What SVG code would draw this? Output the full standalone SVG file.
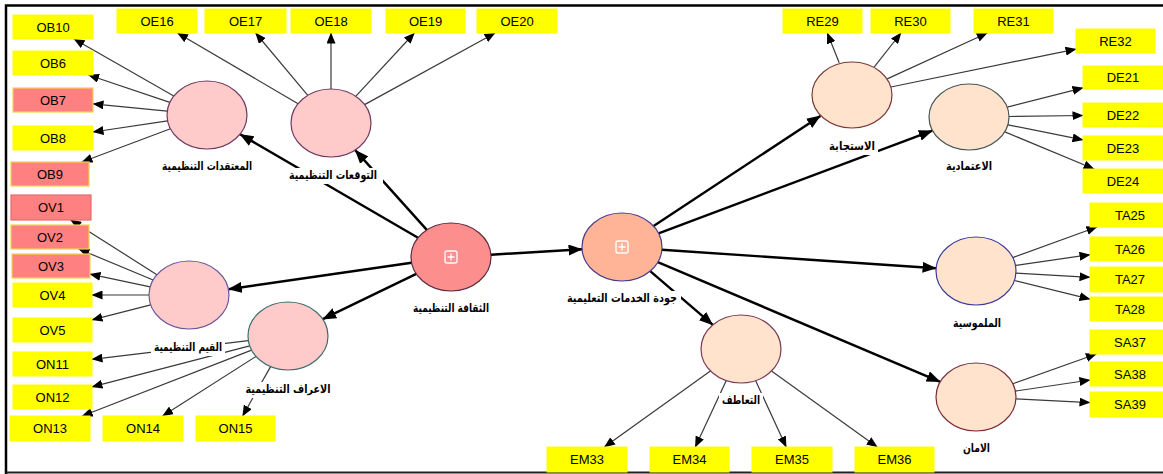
<svg xmlns="http://www.w3.org/2000/svg" width="1163" height="474" viewBox="0 0 1163 474">
<style>
.bg{fill:#fff}
.frame{fill:none;stroke:#000;stroke-width:2.5}
.thin{fill:none;stroke:#3a3a3a;stroke-width:1.2;marker-end:url(#ah)}
.thick{fill:none;stroke:#000;stroke-width:2.4;marker-end:url(#ahb)}
.y{fill:#ffff00;stroke:#ffff00;stroke-width:1}
.p{fill:#ff8080;stroke:#f2d24a;stroke-width:1.2}
.p2{fill:#ff8080;stroke:#e86a6a;stroke-width:1.2}
.it{font-family:"Liberation Sans",Arial,sans-serif;font-size:13px;fill:#000;text-anchor:middle}
.lt{font-family:"DejaVu Sans",sans-serif;font-size:11.5px;font-weight:bold;fill:#000;text-anchor:middle}
.lb{fill:#fff}
.e1{fill:#ffcaca;stroke:#6e3a62;stroke-width:1.2}
.e0{fill:#fc8e8e;stroke:#5a2a40;stroke-width:1.2}
.eq{fill:#ffb497;stroke:#4a3a8a;stroke-width:1.2}
.er{fill:#ffe3cc;stroke-width:1.2}
.ic{fill:none;stroke:#fff;stroke-width:1.3}
</style>
<defs>
<marker id="ah" markerUnits="userSpaceOnUse" viewBox="0 0 11 9" markerWidth="11" markerHeight="9" refX="10.5" refY="4.5" orient="auto"><path d="M0,0 L11,4.5 L0,9 z" fill="#000"/></marker>
<marker id="ahb" markerUnits="userSpaceOnUse" viewBox="0 0 14 11" markerWidth="14" markerHeight="11" refX="13.5" refY="5.5" orient="auto"><path d="M0,0 L14,5.5 L0,11 z" fill="#000"/></marker>
</defs>
<rect class="bg" x="0" y="0" width="1163" height="474"/>
<path class="frame" d="M6,474 V5.5 H1163"/>
<path d="M6,472.5 H1163" fill="none" stroke="#222" stroke-width="2"/>

<g id="connectors">
<path class="thin" d="M173.8,96 L74,39"/>
<path class="thin" d="M169.8,102.4 L88.5,75"/>
<path class="thin" d="M167.3,111.1 L93,103.9"/>
<path class="thin" d="M167.6,120.9 L93,132"/>
<path class="thin" d="M170.4,128.7 L81.9,162"/>
<path class="thin" d="M298.1,103.7 L177.5,33"/>
<path class="thin" d="M307.8,95.3 L255.6,33"/>
<path class="thin" d="M331,89 L331,33"/>
<path class="thin" d="M355.7,96.3 L414.4,33"/>
<path class="thin" d="M364.6,104.6 L495.1,33"/>
<path class="thin" d="M156.9,274.7 L70.7,220"/>
<path class="thin" d="M153.1,280 L78.8,249"/>
<path class="thin" d="M150.2,286.8 L90,274.2"/>
<path class="thin" d="M149,295 L92,295"/>
<path class="thin" d="M150.7,304.8 L92,319.9"/>
<path class="thin" d="M248.4,340.7 L92,359.3"/>
<path class="thin" d="M249.7,345.9 L92,386.8"/>
<path class="thin" d="M251.6,350.1 L82.2,416"/>
<path class="thin" d="M256,356.4 L162.6,416"/>
<path class="thin" d="M270.6,366.6 L242.6,416"/>
<path class="thick" d="M418,237.8 L240,134.2"/>
<path class="thick" d="M426.8,229.9 L355.2,150.1"/>
<path class="thick" d="M411.6,262.7 L228.4,289.3"/>
<path class="thick" d="M416.3,273.8 L322.7,319.2"/>
<path class="thick" d="M490.9,254.7 L582.1,249.3"/>
<path class="thick" d="M653.6,226.1 L820.4,115.9"/>
<path class="thick" d="M658.6,233.3 L932.4,130.7"/>
<path class="thick" d="M661.9,249.7 L936.1,268.3"/>
<path class="thick" d="M657.8,262.2 L940.2,381.8"/>
<path class="thick" d="M650.2,271.1 L712.8,324.9"/>
<path class="thin" d="M710.4,370.9 L604.4,447"/>
<path class="thin" d="M726.3,380.6 L695.3,447"/>
<path class="thin" d="M755.6,380.6 L786.2,447"/>
<path class="thin" d="M771.5,371 L877.2,447"/>
<path class="thin" d="M839.2,62.8 L827.3,33"/>
<path class="thin" d="M874.3,66.8 L901,33"/>
<path class="thin" d="M887.2,78.9 L987.3,33"/>
<path class="thin" d="M890.9,87 L1076,49.1"/>
<path class="thin" d="M1007.3,107.2 L1083,87.8"/>
<path class="thin" d="M1009,116.5 L1083,115.5"/>
<path class="thin" d="M1007.9,124.8 L1083,139.9"/>
<path class="thin" d="M1004.9,131.9 L1094.1,169"/>
<path class="thin" d="M1012.8,257.6 L1097,227"/>
<path class="thin" d="M1015.4,265.4 L1090,254.7"/>
<path class="thin" d="M1015.9,273.2 L1090,277.3"/>
<path class="thin" d="M1014.4,280.5 L1090,299.1"/>
<path class="thin" d="M1012.9,383.8 L1096.4,354"/>
<path class="thin" d="M1015.4,391.1 L1090,380"/>
<path class="thin" d="M1015.9,398.9 L1090,402.6"/>
</g>

<g id="OB10"><rect class="y" x="13" y="15" width="80" height="24"/><text class="it" x="53" y="31.5">OB10</text></g>
<g id="OB6"><rect class="y" x="13" y="51" width="80" height="24"/><text class="it" x="53" y="67.5">OB6</text></g>
<g id="OB7"><rect class="p" x="13" y="88" width="80" height="24"/><text class="it" x="53" y="104.5">OB7</text></g>
<g id="OB8"><rect class="y" x="13" y="126" width="80" height="24"/><text class="it" x="53" y="142.5">OB8</text></g>
<g id="OB9"><rect class="p" x="11" y="162" width="78" height="24"/><text class="it" x="50" y="178.5">OB9</text></g>
<g id="OV1"><rect class="p2" x="11" y="195" width="80" height="25"/><text class="it" x="51" y="212">OV1</text></g>
<g id="OV2"><rect class="p" x="11" y="225" width="78" height="24"/><text class="it" x="50" y="241.5">OV2</text></g>
<g id="OV3"><rect class="p" x="12" y="254" width="78" height="24"/><text class="it" x="51" y="270.5">OV3</text></g>
<g id="OV4"><rect class="y" x="13" y="283" width="79" height="24"/><text class="it" x="52.5" y="299.5">OV4</text></g>
<g id="OV5"><rect class="y" x="13" y="318" width="79" height="24"/><text class="it" x="52.5" y="334.5">OV5</text></g>
<g id="ON11"><rect class="y" x="13" y="352" width="79" height="24"/><text class="it" x="52.5" y="368.5">ON11</text></g>
<g id="ON12"><rect class="y" x="13" y="385" width="79" height="24"/><text class="it" x="52.5" y="401.5">ON12</text></g>
<g id="ON13"><rect class="y" x="10" y="416" width="80" height="25"/><text class="it" x="50" y="433">ON13</text></g>
<g id="ON14"><rect class="y" x="103" y="416" width="80" height="25"/><text class="it" x="143" y="433">ON14</text></g>
<g id="ON15"><rect class="y" x="196" y="416" width="79" height="25"/><text class="it" x="235.5" y="433">ON15</text></g>
<g id="OE16"><rect class="y" x="117" y="9" width="80" height="24"/><text class="it" x="157" y="25.5">OE16</text></g>
<g id="OE17"><rect class="y" x="205" y="9" width="81" height="24"/><text class="it" x="245.5" y="25.5">OE17</text></g>
<g id="OE18"><rect class="y" x="291" y="9" width="80" height="24"/><text class="it" x="331" y="25.5">OE18</text></g>
<g id="OE19"><rect class="y" x="386" y="9" width="79" height="24"/><text class="it" x="425.5" y="25.5">OE19</text></g>
<g id="OE20"><rect class="y" x="477" y="9" width="80" height="24"/><text class="it" x="517" y="25.5">OE20</text></g>
<g id="RE29"><rect class="y" x="783" y="9" width="79" height="24"/><text class="it" x="822.5" y="25.5">RE29</text></g>
<g id="RE30"><rect class="y" x="871" y="9" width="79" height="24"/><text class="it" x="910.5" y="25.5">RE30</text></g>
<g id="RE31"><rect class="y" x="974" y="9" width="79" height="24"/><text class="it" x="1013.5" y="25.5">RE31</text></g>
<g id="RE32"><rect class="y" x="1076" y="29" width="79" height="24"/><text class="it" x="1115.5" y="45.5">RE32</text></g>
<g id="DE21"><rect class="y" x="1083" y="66" width="80" height="23"/><text class="it" x="1123" y="82">DE21</text></g>
<g id="DE22"><rect class="y" x="1083" y="103" width="80" height="24"/><text class="it" x="1123" y="119.5">DE22</text></g>
<g id="DE23"><rect class="y" x="1083" y="136" width="80" height="24"/><text class="it" x="1123" y="152.5">DE23</text></g>
<g id="DE24"><rect class="y" x="1083" y="169" width="80" height="24"/><text class="it" x="1123" y="185.5">DE24</text></g>
<g id="TA25"><rect class="y" x="1090" y="203" width="80" height="24"/><text class="it" x="1130" y="219.5">TA25</text></g>
<g id="TA26"><rect class="y" x="1090" y="237" width="80" height="24"/><text class="it" x="1130" y="253.5">TA26</text></g>
<g id="TA27"><rect class="y" x="1090" y="267" width="80" height="25"/><text class="it" x="1130" y="284">TA27</text></g>
<g id="TA28"><rect class="y" x="1090" y="297" width="80" height="24"/><text class="it" x="1130" y="313.5">TA28</text></g>
<g id="SA37"><rect class="y" x="1090" y="330" width="80" height="24"/><text class="it" x="1130" y="346.5">SA37</text></g>
<g id="SA38"><rect class="y" x="1090" y="362" width="80" height="24"/><text class="it" x="1130" y="378.5">SA38</text></g>
<g id="SA39"><rect class="y" x="1090" y="392" width="80" height="25"/><text class="it" x="1130" y="409">SA39</text></g>
<g id="EM33"><rect class="y" x="547" y="447" width="80" height="25"/><text class="it" x="587" y="464">EM33</text></g>
<g id="EM34"><rect class="y" x="650" y="447" width="79" height="25"/><text class="it" x="689.5" y="464">EM34</text></g>
<g id="EM35"><rect class="y" x="752" y="447" width="80" height="25"/><text class="it" x="792" y="464">EM35</text></g>
<g id="EM36"><rect class="y" x="855" y="447" width="79" height="25"/><text class="it" x="894.5" y="464">EM36</text></g>

<g id="beliefs"><ellipse class="e1" cx="207" cy="115" rx="40" ry="34"/><rect class="lb" x="159" y="159" width="96" height="15"/><text class="lt" x="207" y="170" textLength="90" lengthAdjust="spacingAndGlyphs">المعتقدات التنظيمية</text></g>
<g id="expectations"><ellipse class="e1" cx="331" cy="123" rx="40" ry="34"/><rect class="lb" x="285" y="168" width="98" height="16"/><text class="lt" x="333" y="179" textLength="88" lengthAdjust="spacingAndGlyphs">التوقعات التنظيمية</text></g>
<g id="values"><ellipse class="e1" cx="189" cy="295" rx="40" ry="34" style="stroke:#6a58a0"/><rect class="lb" x="151" y="340" width="74" height="16"/><text class="lt" x="188" y="351" textLength="68" lengthAdjust="spacingAndGlyphs">القيم التنظيمية</text></g>
<g id="norms"><ellipse class="e1" cx="288" cy="336" rx="40" ry="34" style="stroke:#3f6b6b"/><rect class="lb" x="242" y="382" width="91" height="16"/><text class="lt" x="288" y="393" textLength="85" lengthAdjust="spacingAndGlyphs">الاعراف التنظيمية</text></g>
<g id="culture"><ellipse class="e0" cx="451" cy="257" rx="40" ry="34"/><rect class="ic" x="445" y="251" width="12" height="12" rx="2"/><path class="ic" d="M451,253.5 V260.5 M447.5,257 H454.5"/><rect class="lb" x="410" y="301" width="82" height="16"/><text class="lt" x="451" y="312" textLength="76" lengthAdjust="spacingAndGlyphs">الثقافة التنظيمية</text></g>
<g id="quality"><ellipse class="eq" cx="622" cy="247" rx="40" ry="34"/><rect class="ic" x="616" y="241" width="12" height="12" rx="2"/><path class="ic" d="M622,243.5 V250.5 M618.5,247 H625.5"/><rect class="lb" x="563" y="291" width="118" height="16"/><text class="lt" x="622" y="302" textLength="110" lengthAdjust="spacingAndGlyphs">جودة الخدمات التعليمية</text></g>
<g id="responsiveness"><ellipse class="er" cx="852" cy="95" rx="40" ry="33" style="stroke:#7a3a3a"/><rect class="lb" x="826" y="139" width="52" height="16"/><text class="lt" x="852" y="150" textLength="46" lengthAdjust="spacingAndGlyphs">الاستجابة</text></g>
<g id="reliability"><ellipse class="er" cx="969" cy="117" rx="40" ry="33" style="stroke:#4a5555"/><rect class="lb" x="943" y="159" width="52" height="16"/><text class="lt" x="969" y="170" textLength="46" lengthAdjust="spacingAndGlyphs">الاعتمادية</text></g>
<g id="tangibles"><ellipse class="er" cx="976" cy="271" rx="40" ry="34" style="stroke:#3a3a9a"/><rect class="lb" x="950" y="316" width="54" height="16"/><text class="lt" x="977" y="327" textLength="48" lengthAdjust="spacingAndGlyphs">الملموسية</text></g>
<g id="assurance"><ellipse class="er" cx="976" cy="397" rx="40" ry="34" style="stroke:#7a2a3a"/><rect class="lb" x="960" y="441" width="33" height="16"/><text class="lt" x="976.5" y="452" textLength="27" lengthAdjust="spacingAndGlyphs">الامان</text></g>
<g id="empathy"><ellipse class="er" cx="741" cy="349" rx="40" ry="34" style="stroke:#7a3a5a"/><rect class="lb" x="719" y="393" width="44" height="16"/><text class="lt" x="741" y="404" textLength="38" lengthAdjust="spacingAndGlyphs">التعاطف</text></g>
</svg>
